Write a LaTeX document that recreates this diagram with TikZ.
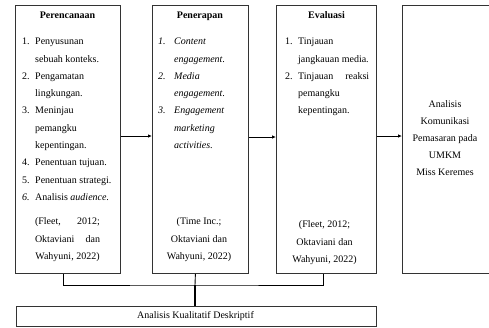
\documentclass[tikz,border=0pt]{standalone}
\usepackage{fontspec}
\setmainfont{Liberation Serif}
\usetikzlibrary{arrows.meta,calc}
\newcommand\nb[2]{\makebox[#1][l]{#2}}
\begin{document}
\begin{tikzpicture}[x=1pt,y=-1pt,
  box/.style={draw=black!80, line width=0.8pt, anchor=north west, inner sep=0},
  txt/.style={font=\fontsize{10}{17.3}\selectfont, inner sep=0, align=left, anchor=north west},
  itxt/.style={font=\fontsize{10}{17.3}\selectfont\itshape, inner sep=0, align=left, anchor=north west},
  ctxt/.style={font=\fontsize{10}{17.3}\selectfont, inner sep=0, align=center, anchor=north},
  ttl/.style={font=\fontsize{10}{12}\selectfont\bfseries, inner sep=0, anchor=base},
  arr/.style={line width=0.8pt, -{Latex[length=4pt,width=3.5pt]}},
  conn/.style={line width=0.9pt}]
\useasboundingbox (0,0) rectangle (489,327);
% boxes
\node[box, minimum width=105pt, minimum height=268pt] (b1) at (15,5) {};
\node[box, minimum width=96pt, minimum height=268pt] (b2) at (152,5) {};
\node[box, minimum width=100pt, minimum height=268pt] (b3) at (276,5) {};
\node[box, minimum width=95pt, minimum height=268pt] (b4) at (402,5) {};
\node[box, minimum width=360pt, minimum height=20pt] (bot) at (16,306) {};
% titles
\node[ttl] (t1) at (67.5,18.5) {Perencanaan};
\node[ttl] (t2) at (200,18.5) {Penerapan};
\node[ttl] (t3) at (326.5,18.5) {Evaluasi};
% lists
\node[txt] (l1) at (22,32.4) {\strut\nb{13pt}{1.}Penyusunan\\
\hspace*{13pt}sebuah konteks.\\
\nb{13pt}{2.}Pengamatan\\
\hspace*{13pt}lingkungan.\\
\nb{13pt}{3.}Meninjau\\
\hspace*{13pt}pemangku\\
\hspace*{13pt}kepentingan.\\
\nb{13pt}{4.}Penentuan tujuan.\\
\nb{13pt}{5.}Penentuan strategi.\\
\nb{13pt}{\textit{6.}}Analisis \textit{audience.}};
\node[itxt] (l2) at (158,32.4) {\strut\nb{16pt}{1.}Content\\
\hspace*{16pt}engagement.\\
\nb{16pt}{2.}Media\\
\hspace*{16pt}engagement.\\
\nb{16pt}{3.}Engagement\\
\hspace*{16pt}marketing\\
\hspace*{16pt}activities.};
\node[txt] (l3) at (285,32.4) {\strut\nb{13pt}{1.}Tinjauan\\
\hspace*{13pt}jangkauan media.\\
\nb{13pt}{2.}\makebox[71pt][s]{Tinjauan reaksi}\\
\hspace*{13pt}pemangku\\
\hspace*{13pt}kepentingan.};
% citations
\node[ctxt] (c1) at (67.5,212.4) {\strut\makebox[65pt][s]{(Fleet, 2012;}\\
\makebox[65pt][s]{Oktaviani dan}\\
Wahyuni, 2022)};
\node[ctxt] (c2) at (199,212.4) {\strut(Time Inc.;\\
Oktaviani dan\\
Wahyuni, 2022)};
\node[ctxt] (c3) at (324.5,215.4) {\strut(Fleet, 2012;\\
Oktaviani dan\\
Wahyuni, 2022)};
% box 4 text
\node[ctxt, font=\fontsize{10}{17}\selectfont] (m4) at (445,95.6) {\strut Analisis\\
Komunikasi\\
Pemasaran pada\\
UMKM\\
Miss Keremes};
% bottom text
\node[font=\fontsize{10}{12}\selectfont, inner sep=0, anchor=base] (bt) at (195.5,318.5) {Analisis Kualitatif Deskriptif};
% arrows
\draw[arr] (b1.east |- 0,136) -- (b2.west |- 0,136);
\draw[arr] (b2.east |- 0,137) -- (b3.west |- 0,137);
\draw[arr] (b3.east |- 0,136) -- (b4.west |- 0,136);
% connectors
\coordinate (j) at (195,285);
\coordinate (p1) at ([xshift=-4.5pt]b1.south);
\coordinate (p2) at ([xshift=-5pt]b2.south);
\coordinate (p3) at ([xshift=-3pt]b3.south);
\draw[conn] (p1) |- (j) -| (p3);
\draw[conn] (p2) -- (j);
\draw[line width=2pt] (j) -- (j |- bot.north);
\end{tikzpicture}
\end{document}
